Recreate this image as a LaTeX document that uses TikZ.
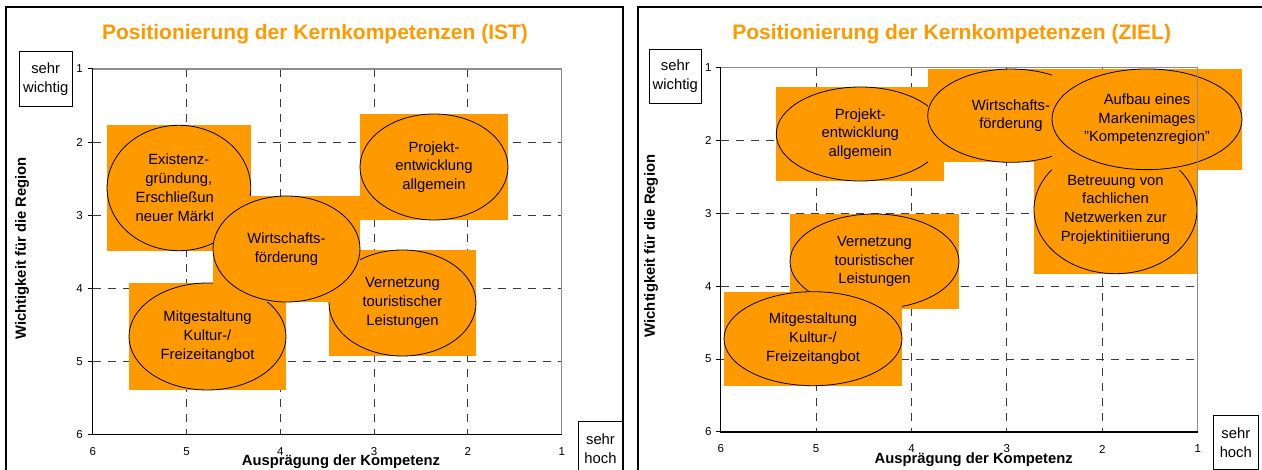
\documentclass[tikz,border=0pt]{standalone}
\usepackage{fontspec}
\setmainfont{Liberation Sans}
\usetikzlibrary{shapes.geometric}

\definecolor{kkorange}{HTML}{FF9900}
\definecolor{gridgray}{HTML}{3A3A3A}
\definecolor{framegray}{HTML}{8C8C8C}

\tikzset{
  bubblebg/.style={rectangle, fill=kkorange, draw=none, inner sep=0pt},
  bubble/.style={ellipse, draw=black, line width=0.8pt, inner sep=0pt,
    align=center, font=\fontsize{14.8}{18.7}\selectfont},
  bubbletext/.style={inner sep=0pt, font=\fontsize{14.8}{18.7}\selectfont},
  gridline/.style={draw=gridgray, line width=0.9pt, dash pattern=on 8pt off 7pt},
  axisline/.style={draw=black, line width=1.3pt},
  borderline/.style={draw=framegray, line width=1.3pt},
  panelframe/.style={draw=black, line width=1.4pt},
  charttitle/.style={text=kkorange, font=\fontsize{21}{25}\selectfont\bfseries},
  axislabel/.style={font=\fontsize{14.8}{18}\selectfont\bfseries},
  ticklabel/.style={font=\fontsize{11.5}{13}\selectfont, inner sep=0pt},
  endbox/.style={rectangle, draw=black, line width=0.8pt, fill=white,
    align=center, inner sep=0pt, font=\fontsize{14.8}{18.7}\selectfont},
}

% orange square backdrop with an outlined ellipse on top
% #1 name, #2 cx, #3 cy, #4 width, #5 height, #6 text
\newcommand\kkbubble[6]{%
  \node[bubblebg, minimum width=#4pt, minimum height=#5pt] (#1-bg) at (#2,#3) {};
  \node[bubble, minimum width=#4pt, minimum height=#5pt] (#1) at (#2,#3) {#6};
}
\newcommand\dq{\symbol{34}}

\begin{document}
\begin{tikzpicture}[x=1pt, y=-1pt]
\useasboundingbox (0,0) rectangle (1262,470);
\clip (0,0) rectangle (1262,470);

% ---------------- panel frames ----------------
\draw[panelframe] (6,7) rectangle (623,490);
\draw[panelframe] (638,7) rectangle (1280,490);

% ================= IST =================
\node[charttitle] (title-ist) at (315,34.5) {Positionierung der Kernkompetenzen (IST)};

\foreach \x in {186.5,280.3,374.1,467.9}
  \draw[gridline] (\x,69) -- (\x,434.3);
\foreach \y in {142.1,215.1,288.2,361.2}
  \draw[gridline] (92.7,\y) -- (561.7,\y);

\kkbubble{ist-exist}{178.9}{188}{143.7}{125.4}{}
\node[bubbletext, align=center] (ist-exist-a) at (178.8,170) {Existenz-\\gründung,};
\node[bubbletext, align=left, anchor=west] (ist-exist-b) at (135.5,207) {Erschließun\\neuer Märkt};
\kkbubble{ist-proj}{434}{167}{148}{106}{Projekt-\\entwicklung\\allgemein}
\kkbubble{ist-mit}{207.5}{336.5}{157}{107}{Mitgestaltung\\Kultur-/\\Freizeitangbot}
\kkbubble{ist-vern}{402.5}{303}{147}{106}{Vernetzung\\touristischer\\Leistungen}
\kkbubble{ist-wirt}{286.5}{249}{147}{106}{Wirtschafts-\\förderung}

\draw[borderline] (92.7,69) -- (561.7,69) -- (561.7,434.3);
\draw[axisline] (92.7,69) -- (92.7,434.3) -- (561.7,434.3);
\foreach \y [count=\i] in {69,142.1,215.1,288.2,361.2,434.3}{
  \draw[line width=1pt] (87.7,\y) -- (92.7,\y);
  \node[ticklabel] (ist-yl-\i) at (79.5,\y) {\i};
}
\foreach \x/\v in {92.7/6,186.5/5,280.3/4,374.1/3,467.9/2,561.7/1}
  \node[ticklabel] (ist-xl-\v) at (\x,451.5) {\v};

\node[axislabel, rotate=90] (ist-ylabel) at (22,248.5) {Wichtigkeit für die Region};
\node[axislabel] (ist-xlabel) at (341,462) {Ausprägung der Kompetenz};
\node[endbox, minimum width=52.7pt, minimum height=54.3pt] (ist-top) at (45.7,78.9) {sehr\\wichtig};
\node[endbox, minimum width=44.4pt, minimum height=55pt] (ist-end) at (600.5,448.5) {sehr\\hoch};

% ================= ZIEL =================
\node[charttitle] (title-ziel) at (951.7,34.5) {Positionierung der Kernkompetenzen (ZIEL)};

\foreach \x in {816.1,911.5,1006.9,1102.3}
  \draw[gridline] (\x,67.7) -- (\x,432);
\foreach \y in {140.6,213.4,286.3,359.1}
  \draw[gridline] (720.7,\y) -- (1197.7,\y);

\kkbubble{ziel-proj}{860.3}{134}{168}{94}{Projekt-\\entwicklung\\allgemein}
\kkbubble{ziel-vern}{874.5}{261.5}{169}{95}{Vernetzung\\touristischer\\Leistungen}
\kkbubble{ziel-mit}{813}{338.7}{178}{94}{Mitgestaltung\\Kultur-/\\Freizeitangbot}
\kkbubble{ziel-betr}{1115.5}{209.7}{163}{128}{Betreuung von\\fachlichen\\Netzwerken zur\\Projektinitiierung}
\kkbubble{ziel-wirt}{1011}{115.7}{166.6}{93.3}{Wirtschafts-\\förderung}
\kkbubble{ziel-aufb}{1147}{119.3}{190}{100.7}{Aufbau eines\\Markenimages\\\dq Kompetenzregion\dq}

\draw[borderline] (720.7,67.7) -- (1197.7,67.7) -- (1197.7,432);
\draw[axisline] (720.7,67.7) -- (720.7,432) -- (1197.7,432);
\foreach \y [count=\i] in {67.7,140.6,213.4,286.3,359.1,432}{
  \draw[line width=1pt] (715.7,\y) -- (720.7,\y);
  \node[ticklabel] (ziel-yl-\i) at (708.3,\y) {\i};
}
\foreach \x/\v in {720.7/6,816.1/5,911.5/4,1006.9/3,1102.3/2,1197.7/1}
  \node[ticklabel] (ziel-xl-\v) at (\x,449) {\v};

\node[axislabel, rotate=90] (ziel-ylabel) at (651,246) {Wichtigkeit für die Region};
\node[axislabel] (ziel-xlabel) at (973.7,459.5) {Ausprägung der Kompetenz};
\node[endbox, minimum width=52.7pt, minimum height=54.4pt] (ziel-top) at (675.3,76.5) {sehr\\wichtig};
\node[endbox, minimum width=45pt, minimum height=53.6pt] (ziel-end) at (1235.8,442.5) {sehr\\hoch};
\end{tikzpicture}
\end{document}
